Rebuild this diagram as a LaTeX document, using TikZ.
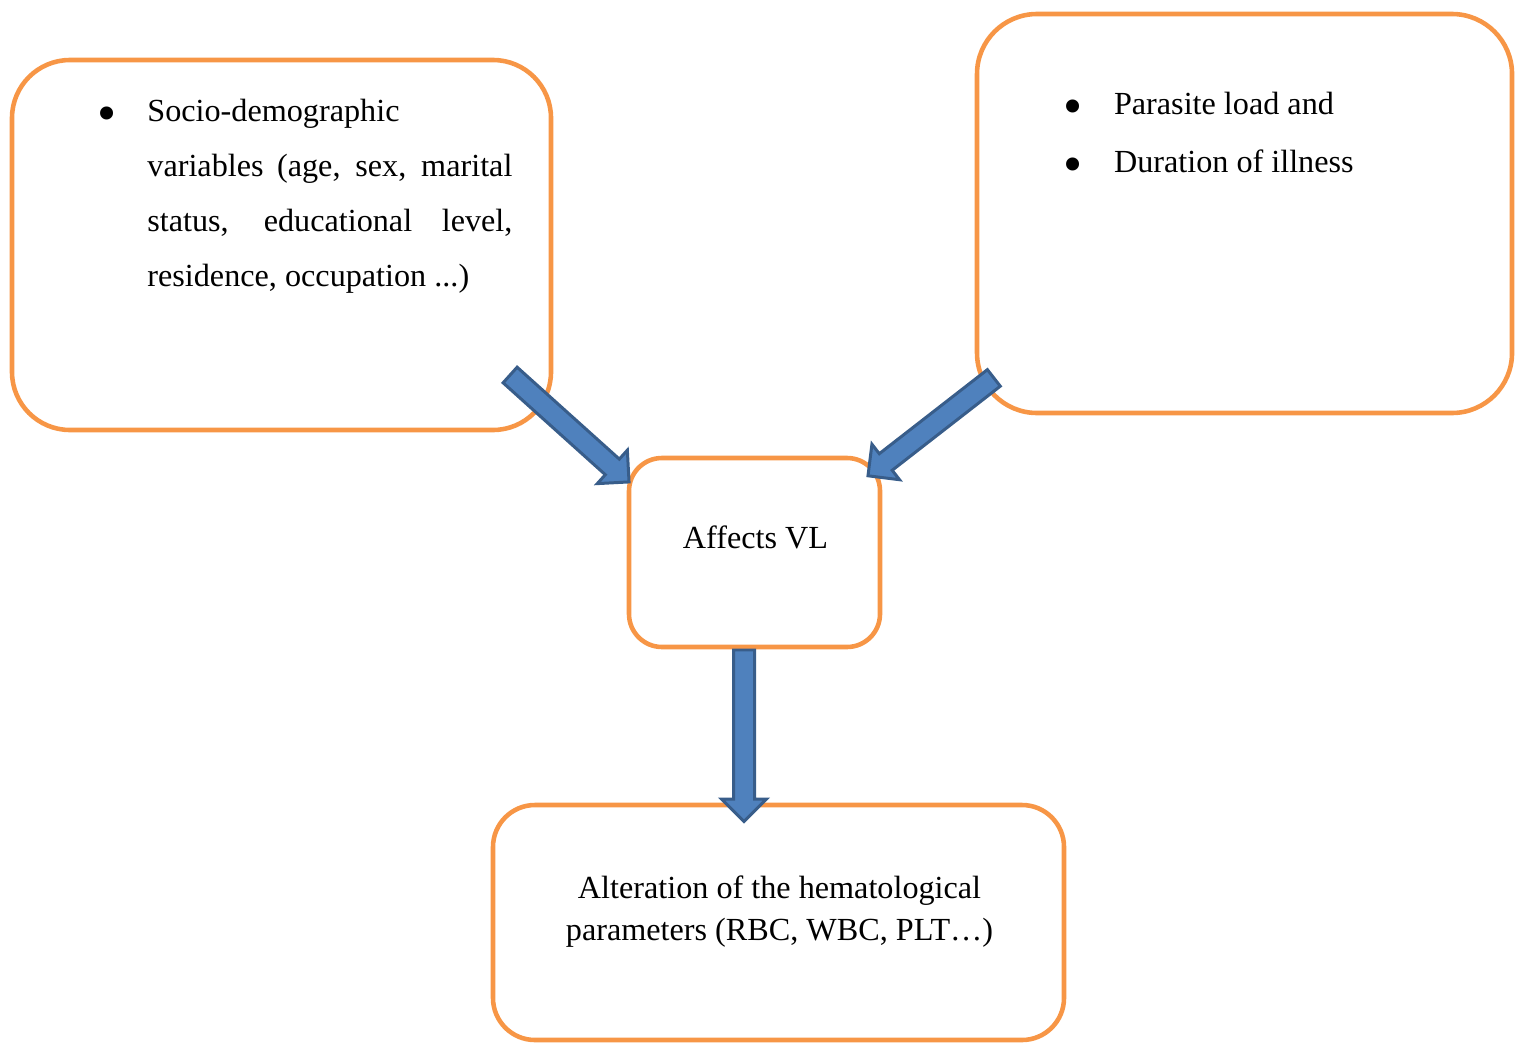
\documentclass[tikz,border=0pt]{standalone}
\usepackage{fontspec}
\setmainfont{Liberation Serif}
\usetikzlibrary{shapes.arrows, calc, positioning}
\definecolor{boxorange}{HTML}{F79646}
\definecolor{arrowfill}{HTML}{4F81BD}
\definecolor{arrowline}{HTML}{385D8A}

\begin{document}
\begin{tikzpicture}[
	factor/.style={draw=boxorange, line width=1.3pt, inner sep=0pt},
	txt/.style={inner sep=0pt, anchor=base west, font=\fontsize{9.16pt}{11pt}\selectfont},
	dot/.style={inner sep=0pt, anchor=base, yshift=-0.1cm, font=\fontsize{15.5pt}{15.5pt}\selectfont},
	flowarrow/.style={single arrow, draw=arrowline, fill=arrowfill, line width=0.85pt, inner sep=0.09cm, single arrow head extend=0.12cm, anchor=tail}
	]
		\useasboundingbox (0,0) rectangle (15.19,-10.42);
		
		%socio
		\node[factor, minimum width=5.39cm, minimum height=3.70cm, rounded corners=0.58cm] (socio) at (2.815,-2.45) {};
		%parasite
		\node[factor, minimum width=5.35cm, minimum height=3.99cm, rounded corners=0.6cm] (parasite) at (12.445,-2.135) {};
		%affects
		\node[factor, minimum width=2.51cm, minimum height=1.89cm, rounded corners=0.33cm] (affects) at (7.545,-5.525) {};
		%alteration
		\node[factor, minimum width=5.71cm, minimum height=2.35cm, rounded corners=0.42cm] (alter) at (7.785,-9.225) {};
		
		% socio text
		\node[dot] (sociodot) at (1.067,-1.217) {\textbullet};
		\node[txt] (socio1) at (1.467,-1.217) {Socio-demographic};
		\node[txt] (socio2) at (1.467,-1.76) {\makebox[3.65cm][s]{variables (age, sex, marital}};
		\node[txt] (socio3) at (1.467,-2.317) {\makebox[3.65cm][s]{status, educational level,}};
		\node[txt] (socio4) at (1.467,-2.867) {residence, occupation ...)};
		
		% parasite text
		\node[dot] (paradot1) at (10.727,-1.143) {\textbullet};
		\node[txt] (para1) at (11.133,-1.143) {Parasite load and};
		\node[dot] (paradot2) at (10.727,-1.723) {\textbullet};
		\node[txt] (para2) at (11.133,-1.723) {Duration of illness};
		
		% affects text
		\node[txt, anchor=base] (afftext) at (7.555,-5.48) {Affects VL};
		
		% alteration text
		\node[txt, anchor=base] (alter1) at (7.795,-8.983) {Alteration of the hematological};
		\node[txt, anchor=base] (alter2) at (7.795,-9.40) {parameters (RBC, WBC, PLT…)};
		
		% arrow ends
		\coordinate (socioout) at (5.09,-3.74);
		\coordinate (affin1) at (6.28,-4.81);
		\coordinate (paraout) at (9.95,-3.77);
		\coordinate (affin2) at (8.69,-4.75);
		\coordinate (affout) at (7.44,-6.485);
		\coordinate (alterin) at (7.44,-8.20);
		
		% arrows
		\foreach \s/\t in {socioout/affin1, paraout/affin2, affout/alterin}
			\path let \p1=($(\t)-(\s)$), \n1={atan2(\y1,\x1)}, \n2={veclen(\x1,\y1)} in
				node[flowarrow, rotate=\n1, minimum height=\n2] at (\s) {};
		
\end{tikzpicture}
\end{document}
